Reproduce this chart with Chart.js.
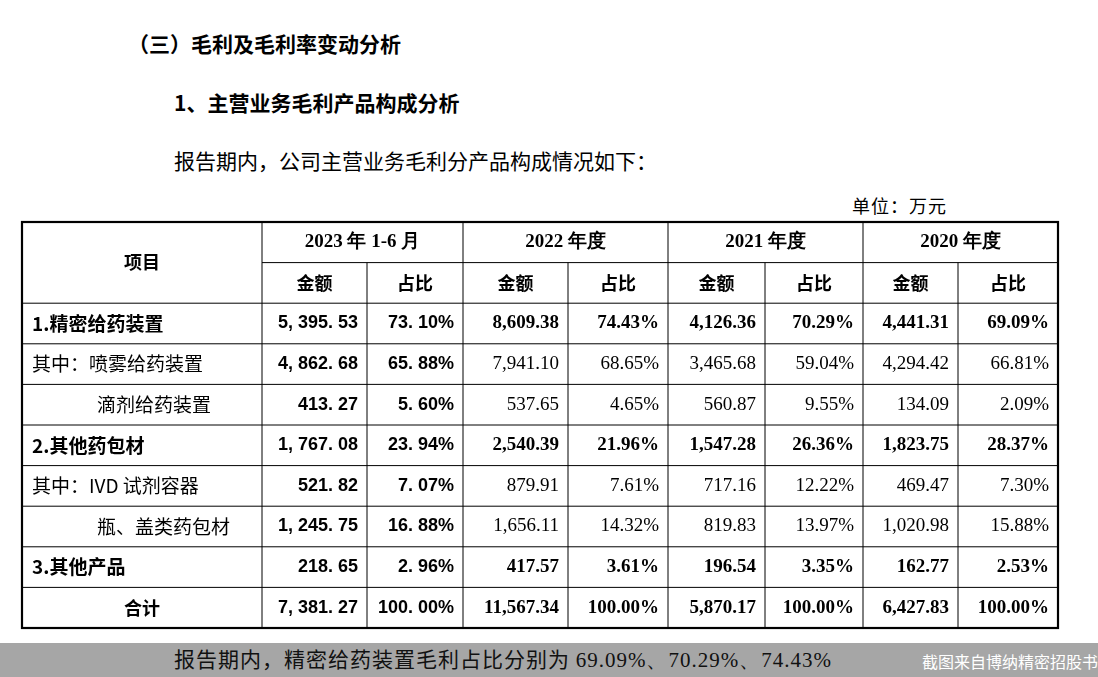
<!DOCTYPE html>
<html><head><meta charset="utf-8">
<script src="https://cdn.jsdelivr.net/npm/chart.js@4/dist/chart.umd.min.js"></script>
<style>
body{margin:0;width:1098px;height:677px;background:#fff;position:relative;overflow:hidden;font-family:"Noto Sans CJK SC";}
.t{position:absolute;white-space:nowrap;color:#000;}
#wrap{position:absolute;left:0;top:0;width:1098px;height:677px;}
#band{position:absolute;left:0;top:643px;width:1098px;height:34px;background:#a6a6a6;}
</style></head><body>
<div class="t" style="left:128px;top:28px;font-size:21px;font-weight:bold;">（三）毛利及毛利率变动分析</div>
<div class="t" style="left:174px;top:87px;font-size:21px;font-weight:bold;">1、主营业务毛利产品构成分析</div>
<div class="t" style="left:174px;top:145px;font-size:21px;">报告期内，公司主营业务毛利分产品构成情况如下：</div>
<div class="t" style="left:852px;top:192px;font-size:18px;letter-spacing:1px;">单位：万元</div>
<div id="wrap"><canvas id="c" width="1098" height="677"></canvas></div>
<div id="band"></div>
<div class="t" style="left:174px;top:643px;font-size:21px;color:#111;letter-spacing:1px;">报告期内，精密给药装置毛利占比分别为 <span style="font-family:'Liberation Serif'">69.09%、70.29%、74.43%</span></div>
<div class="t" style="left:922px;top:649px;font-size:16px;color:#fff;">截图来自博纳精密招股书</div>
<script>
const periods = ["2023 年 1-6 月","2022 年度","2021 年度","2020 年度"];
const subHeaders = ["金额","占比"];
const rowLabels = ["1.精密给药装置","其中：喷雾给药装置","滴剂给药装置","2.其他药包材","其中：IVD 试剂容器","瓶、盖类药包材","3.其他产品","合计"];
const amt2023 = ["5, 395. 53","4, 862. 68","413. 27","1, 767. 08","521. 82","1, 245. 75","218. 65","7, 381. 27"];
const pct2023 = ["73. 10%","65. 88%","5. 60%","23. 94%","7. 07%","16. 88%","2. 96%","100. 00%"];
const amt2022 = ["8,609.38","7,941.10","537.65","2,540.39","879.91","1,656.11","417.57","11,567.34"];
const pct2022 = ["74.43%","68.65%","4.65%","21.96%","7.61%","14.32%","3.61%","100.00%"];
const amt2021 = ["4,126.36","3,465.68","560.87","1,547.28","717.16","819.83","196.54","5,870.17"];
const pct2021 = ["70.29%","59.04%","9.55%","26.36%","12.22%","13.97%","3.35%","100.00%"];
const amt2020 = ["4,441.31","4,294.42","134.09","1,823.75","469.47","1,020.98","162.77","6,427.83"];
const pct2020 = ["69.09%","66.81%","2.09%","28.37%","7.30%","15.88%","2.53%","100.00%"];
const boldRows = [true,false,false,true,false,false,true,true];
const indentRows = [false,false,true,false,false,true,false,false];

const colEdges = [0,240,345,441,546,646,743,841,936,1036];
const cols = [[amt2023,pct2023],[amt2022,pct2022],[amt2021,pct2021],[amt2020,pct2020]];

const tablePlugin = {
  id:'tbl',
  afterDraw(ch){
    const ctx=ch.ctx, xs=ch.scales.x, ys=ch.scales.y;
    const X=v=>xs.getPixelForValue(v), Y=v=>ys.getPixelForValue(v);
    ctx.save();
    ctx.strokeStyle='#000';
    ctx.lineWidth=1;
    ctx.beginPath();
    for(let r=1;r<10;r++){ const x0 = r===1?X(colEdges[1]):X(0); ctx.moveTo(x0,Y(r)); ctx.lineTo(X(1036),Y(r)); }
    for(let c=1;c<9;c++){ const y0 = (c%2===0)?Y(1):Y(0); ctx.moveTo(X(colEdges[c]),y0); ctx.lineTo(X(colEdges[c]),Y(10)); }
    ctx.stroke();
    ctx.lineWidth=2.2;
    ctx.strokeRect(X(0),Y(0),X(1036)-X(0),Y(10)-Y(0));
    ctx.fillStyle='#000';
    ctx.textBaseline='middle';
    const cjk='"Noto Sans CJK SC"', ser='"Liberation Serif"', sans='"Liberation Sans"';
    ctx.textAlign='center';
    ctx.font='bold 18px '+cjk;
    ctx.fillText('项目',X(120),Y(1));
    periods.forEach((p,i)=>{
      const cx=(X(colEdges[1+2*i])+X(colEdges[3+2*i]))/2;
      ctx.font='bold 19px '+ser; ctx.fillText(p,cx,Y(0.5));
      subHeaders.forEach((s,j)=>{
        const sx=(X(colEdges[1+2*i+j])+X(colEdges[2+2*i+j]))/2;
        ctx.font='bold 18px '+cjk; ctx.fillText(s,sx,Y(1.5));
      });
    });
    rowLabels.forEach((lab,r)=>{
      const yc=Y(r+2.5);
      if(r===7){ctx.textAlign='center';ctx.font='bold 18px '+cjk;ctx.fillText(lab,X(120),yc);}
      else{
        ctx.textAlign='left';
        ctx.font=(boldRows[r]?'bold ':'')+'19px '+cjk;
        ctx.fillText(lab,X(indentRows[r]?75:10),yc);
      }
      ctx.textAlign='right';
      cols.forEach((pair,i)=>{
        pair.forEach((arr,j)=>{
          const bold = i===0 || boldRows[r];
          ctx.font=i===0 ? 'bold 18px '+sans : (bold?'bold ':'')+'19px '+ser;
          ctx.fillText(arr[r],X(colEdges[2+2*i+j])-9,yc);
        });
      });
    });
    ctx.restore();
  }
};

new Chart(document.getElementById('c'),{
  type:'scatter',
  data:{datasets:[{data:[]}]},
  options:{
    responsive:false,animation:false,
    layout:{padding:{left:22,right:40,top:222,bottom:49}},
    plugins:{legend:{display:false},tooltip:{enabled:false}},
    scales:{
      x:{type:'linear',min:0,max:1036,display:false},
      y:{type:'linear',min:0,max:10,reverse:true,display:false}
    }
  },
  plugins:[tablePlugin]
});
</script>
</body></html>
